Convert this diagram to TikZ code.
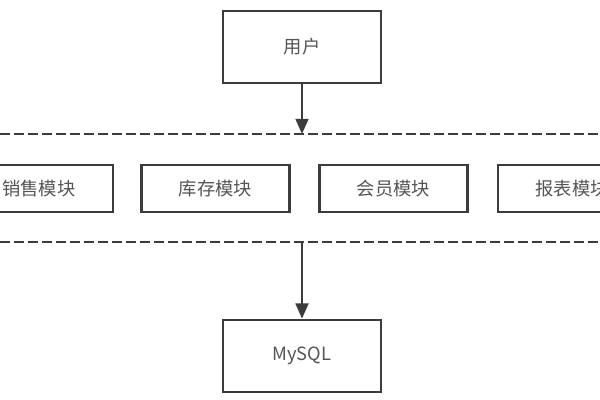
\documentclass[tikz,border=0pt]{standalone}
\usepackage{fontspec}
\newfontfamily\cjk{Noto Sans CJK SC}
\usepackage{tikz}
\usetikzlibrary{arrows.meta, positioning}
\definecolor{boxline}{RGB}{60,60,60}
\definecolor{boxtext}{RGB}{85,85,85}

\begin{document}
\begin{tikzpicture}[x=0.025cm, y=-0.025cm,
    mbox/.style={draw=boxline, line width=1.9pt, fill=white, text=boxtext,
      font=\cjk\fontsize{13}{15}\selectfont, inner sep=0pt},
    flow/.style={draw=boxline, line width=1.7pt, -{Triangle[length=0.38cm, width=0.32cm]}},
    layer/.style={draw=boxline, line width=1.9pt, dash pattern=on 0.24cm off 0.11cm}]
  \useasboundingbox[fill=white] (0,0) rectangle (600,400);
  % user on top
  \node[mbox, minimum width=3.95cm, minimum height=1.8cm] (user) at (302,47) {用户};
  % business layer
  \draw[layer] (0,134) -- (600,134);
  \draw[layer] (0,242) -- (600,242);
  \coordinate (layertop) at (302,134);
  \coordinate (layerbot) at (302,242);
  \node[mbox, minimum width=3.7cm, minimum height=1.175cm] (sale) at (39,188.5) {销售模块};
  \node[mbox, minimum width=3.7cm, minimum height=1.175cm] (stock) at (215.5,188.5) {库存模块};
  \node[mbox, minimum width=3.7cm, minimum height=1.175cm] (member) at (393.5,188.5) {会员模块};
  \node[mbox, minimum width=3.7cm, minimum height=1.175cm] (report) at (572,188.5) {报表模块};
  % database
  \node[mbox, minimum width=3.95cm, minimum height=1.8cm] (mysql) at (302,356) {MySQL};
  \draw[flow] (user) -- (layertop);
  \draw[flow] (layerbot) -- (mysql);
\end{tikzpicture}
\end{document}
